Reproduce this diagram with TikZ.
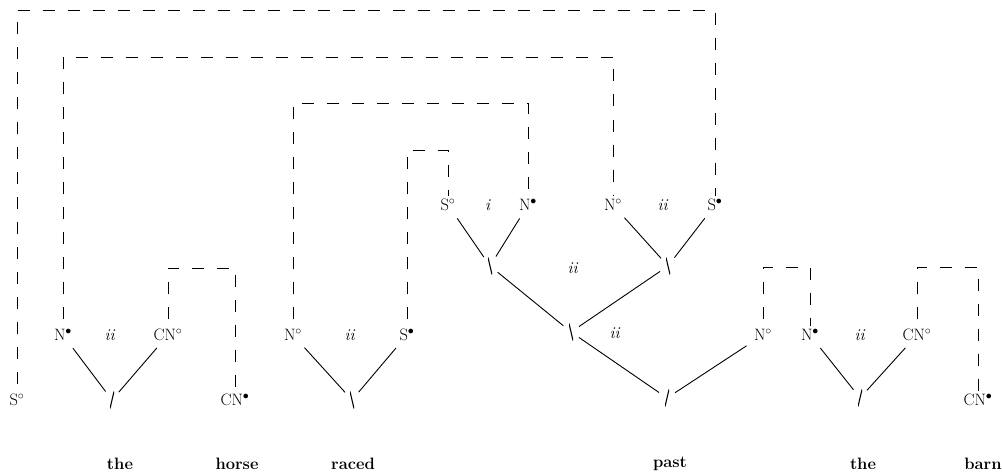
\documentclass[tikz,border=0pt]{standalone}
\begin{document}
\begin{tikzpicture}[x=1pt,y=-1pt,
  lab/.style={font=\fontsize{16.5}{18}\selectfont, inner sep=1.5pt},
  wd/.style={font=\fontsize{16.5}{18}\selectfont\bfseries, inner sep=1pt},
  fsl/.style={inner sep=0pt, minimum width=4pt, minimum height=17pt,
    path picture={\draw[line width=1.1pt] (path picture bounding box.south west) -- (path picture bounding box.north east);}},
  bsl/.style={inner sep=0pt, minimum width=4pt, minimum height=17pt,
    path picture={\draw[line width=1.1pt] (path picture bounding box.north west) -- (path picture bounding box.south east);}},
  conn/.style={line width=0.9pt, shorten <=7pt, shorten >=7pt},
  dl/.style={line width=0.9pt, dash pattern=on 12pt off 13pt, shorten <=8pt, shorten >=1pt}]
\useasboundingbox (0,0) rectangle (1002,473);
% labels
\node[lab] (S0a) at (17,400) {S$^\circ$};
\node[lab] (N1) at (63,335) {N$^\bullet$};
\node[lab] (ii1) at (110,335) {\textit{ii}};
\node[lab] (CN1) at (168,335) {CN$^\circ$};
\node[lab] (CNb1) at (235,400) {CN$^\bullet$};
\node[lab] (N2) at (293,335) {N$^\circ$};
\node[lab] (ii2) at (350,335) {\textit{ii}};
\node[lab] (S2) at (407,335) {S$^\bullet$};
\node[lab] (S3) at (448,205) {S$^\circ$};
\node[lab] (i3) at (488,205) {\textit{i}};
\node[lab] (N3) at (528,205) {N$^\bullet$};
\node[lab] (N4) at (613,205) {N$^\circ$};
\node[lab] (ii4) at (663,205) {\textit{ii}};
\node[lab] (S4) at (715,205) {S$^\bullet$};
\node[lab] (ii5) at (573,268) {\textit{ii}};
\node[lab] (ii6) at (615,333) {\textit{ii}};
\node[lab] (N5) at (763,335) {N$^\circ$};
\node[lab] (N6) at (810,335) {N$^\bullet$};
\node[lab] (ii7) at (860,335) {\textit{ii}};
\node[lab] (CN7) at (917,335) {CN$^\circ$};
\node[lab] (CNb7) at (978,400) {CN$^\bullet$};
% slash nodes
\node[fsl] (sl1) at (112,400) {};
\node[bsl] (sl2) at (352,400) {};
\node[bsl] (sl3) at (490,266) {};
\node[bsl] (sl4) at (668,266) {};
\node[bsl] (sl5) at (571,332) {};
\node[fsl] (sl6) at (667,398) {};
\node[fsl] (sl7) at (860,398) {};
% words
\node[wd] (w1) at (120,464) {the};
\node[wd] (w2) at (237,464) {horse};
\node[wd] (w3) at (353,464) {raced};
\node[wd] (w4) at (670,464) {past};
\node[wd] (w5) at (863,464) {the};
\node[wd] (w6) at (983,464) {barn};
% solid connectors
\draw[conn] (N1) -- (sl1);
\draw[conn] (CN1) -- (sl1);
\draw[conn] (N2) -- (sl2);
\draw[conn] (S2) -- (sl2);
\draw[conn] (S3) -- (sl3);
\draw[conn] (N3) -- (sl3);
\draw[conn] (N4) -- (sl4);
\draw[conn] (S4) -- (sl4);
\draw[conn] (sl3) -- (sl5);
\draw[conn] (sl4) -- (sl5);
\draw[conn] (sl5) -- (sl6);
\draw[conn] (N5) -- (sl6);
\draw[conn] (N6) -- (sl7);
\draw[conn] (CN7) -- (sl7);
% dashed links
\draw[dl] (S0a.north) |- (S4.north |- 0,10) -- (S4.north);
\draw[dl] (N1.north) |- (N4.north |- 0,57) -- (N4.north);
\draw[dl] (N2.north) |- (N3.north |- 0,103) -- (N3.north);
\draw[dl] (S2.north) |- (S3.north |- 0,150) -- (S3.north);
\draw[dl] (CN1.north) |- (CNb1.north |- 0,268) -- (CNb1.north);
\draw[dl] (N5.north) |- (N6.north |- 0,267) -- (N6.north);
\draw[dl] (CN7.north) |- (CNb7.north |- 0,267) -- (CNb7.north);
\end{tikzpicture}
\end{document}
